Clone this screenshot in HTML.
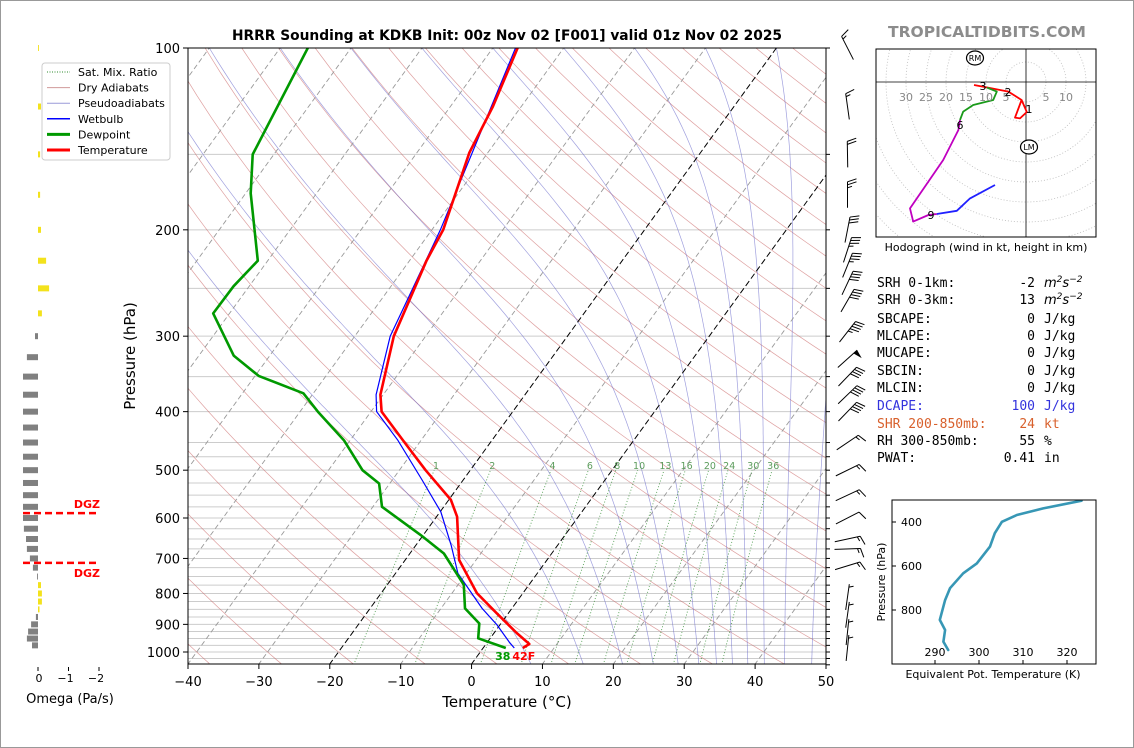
<!DOCTYPE html>
<html><head><meta charset="utf-8"><style>
html,body{margin:0;padding:0;background:#fff;}
#wrap{width:1134px;height:748px;box-sizing:border-box;border:1px solid #999;position:relative;overflow:hidden;}
svg{position:absolute;left:-1px;top:-1px;}
text{font-family:"DejaVu Sans","Liberation Sans",sans-serif;}
.mono{font-family:"DejaVu Sans Mono","Liberation Mono",monospace;font-size:13px;}
</style></head><body>
<div id="wrap">
<svg id="svg" width="1134" height="748" viewBox="0 0 1134 748" xmlns="http://www.w3.org/2000/svg">
<defs>
<clipPath id="mainclip"><rect x="188" y="48" width="638" height="616"/></clipPath>
<clipPath id="hodoclip"><rect x="876" y="49" width="220" height="188"/></clipPath>
<clipPath id="theclip"><rect x="892" y="500" width="204" height="164"/></clipPath>
</defs>
<text x="507" y="40" text-anchor="middle" font-size="13.8" font-weight="bold">HRRR Sounding at KDKB Init: 00z Nov 02 [F001] valid 01z Nov 02 2025</text>
<text x="987" y="37" text-anchor="middle" font-size="15.5" font-weight="bold" fill="#8c8c8c">TROPICALTIDBITS.COM</text>
<g id="bg" clip-path="url(#mainclip)"></g>
<g id="prof" clip-path="url(#mainclip)"></g>
<g id="axes"></g>
<g id="barbs"></g>
<g id="omega"></g>
<g id="hodo"></g>
<g id="stats"></g>
<g id="thetae"></g>
<g id="legend"></g>
</svg>
</div>
<script>
// ---- Sounding data ----
const tempP = [985,970,930,863,799,704,597,560,500,450,400,375,300,225,200,149,125,100];
const tempT = [5.6,6.1,3.2,-1.6,-6.5,-12.4,-17.1,-19.7,-26.3,-32.1,-38.5,-40.4,-44.5,-47.6,-48.4,-52.6,-54,-56.5];
const dewP = [985,949,897,847,774,687,640,575,526,500,446,400,373,349,323,275,248,225,174,150,100];
const dewT = [3.2,-1.7,-3.05,-6.6,-9.2,-15.2,-20.4,-28.7,-31.5,-35.2,-40.9,-47.5,-51.4,-59.5,-65.1,-72.3,-72.2,-71.4,-79.3,-83,-86.1];
const wetP = [985,965,902,847,741,666,586,519,446,400,375,300,200,100];
const wetT = [4.4,3.2,-0.4,-4.2,-11.2,-15.0,-19.9,-25.8,-33.3,-39.2,-41,-45,-48.8,-56.8];
const sfcLabels = ["38", "42F"];
// ---- Axis ticks ----
const pTicks = [100,200,300,400,500,600,700,800,900,1000];
const tTicks = [-40,-30,-20,-10,0,10,20,30,40,50];
const mixRatios = [1,2,4,6,8,10,13,16,20,24,30,36];
// ---- Wind barbs ----
const barbP = [100,125,150,175,200,216,229,245,262,295,327,350,375,400,450,500,550,600,650,675,720,811,868,927,985];
const barbDir = [333,352,359,0,11,18,22,25,30,38,48,44,46,44,56,64,65,63,78,88,73,8,8,6,6];
const barbSpd = [15,15,20,25,30,35,35,40,40,45,50,40,40,40,15,15,15,10,15,15,15,5,5,5,5];
// ---- Omega ----
const omegaP = [100,125,150,175,200,225,250,275,300,325,350,375,400,425,450,475,500,525,550,575,600,625,650,675,700,725,750,775,800,825,850,875,900,925,950,975];
const omegaV = [-0.03,-0.1,-0.07,-0.07,-0.1,-0.27,-0.37,-0.13,0.1,0.37,0.5,0.5,0.5,0.5,0.5,0.5,0.5,0.5,0.5,0.5,0.5,0.47,0.4,0.37,0.27,0.17,0.03,-0.1,-0.13,-0.13,-0.05,0.07,0.23,0.33,0.37,0.2];
const omegaTicks = [0,-1,-2];
const dgzP = [589,712];
// ---- Hodograph (kt) ----
const hodoRedU = [-1.1,0.2,-1.5,-2.75,-1.1,-4.4,-10,-13];
const hodoRedV = [-4.5,-7.5,-9.1,-8.9,-4.5,-2.4,-1.3,-0.75];
const hodoGreenU = [-9.8,-7.3,-8.2,-13.2,-15.7,-16.5];
const hodoGreenV = [-1.4,-2.4,-4.5,-5.75,-7.4,-9.5];
const hodoMagU = [-16.5,-16.9,-20.7,-29,-28.2,-24.4,-22.3];
const hodoMagV = [-9.5,-12,-19.5,-31.6,-34.9,-33.25,-33];
const hodoBlueU = [-22.3,-17.3,-14,-7.75];
const hodoBlueV = [-33,-32.2,-29.1,-25.75];
const hodoLblText = ["1","2","3","6","9"];
const hodoLblU = [0.75,-4.5,-10.75,-16.5,-23.75];
const hodoLblV = [-6.75,-2.5,-1,-10.75,-33.25];
const motionNames = ["RM","LM"];
const motionU = [-12.75,0.75];
const motionV = [6,-16.25];
const ringRadii = [5,10,15,20,25,30,35,40,45,50];
// ---- Theta-e ----
const thetaP = [303,338,368,399,451,512,588,633,701,755,845,891,944,982];
const thetaE = [323.3,314.6,308.6,305.2,303.6,302.5,299.5,296.4,293.4,292.3,291.1,292.3,291.9,293.0];
const thetaXTicks = [290,300,310,320];
const thetaYTicks = [400,600,800];

const NS = "http://www.w3.org/2000/svg";
function mk(tag, attrs, parent){ const e=document.createElementNS(NS,tag); for(const k in attrs) e.setAttribute(k,attrs[k]); parent.appendChild(e); return e; }
const G = id => document.getElementById(id);

const PX = 638/90, SK = 0.725;
function yP(p){ return 652 - 604*Math.log10(1000/p); }
function xT(T,p){ return 188 + (T+40)*PX + SK*(664 - yP(p)); }
function ptsTP(Ts,Ps){ return Ts.map((t,i)=>xT(t,Ps[i]).toFixed(1)+","+yP(Ps[i]).toFixed(1)).join(" "); }

const bg=G('bg');
const gridP=[];
for(let p=100;p<450;p+=50) gridP.push(p);
for(let p=450;p<=1050;p+=25) gridP.push(p);
gridP.forEach(p=>{
  const l=mk('line',{x1:188,x2:826,y1:yP(p),y2:yP(p),stroke:'#cccccc','stroke-width':1},bg);
  
  
});
for(let th=-50;th<=250;th+=10){
  const pts=[]; for(let p=1050;p>=100;p-=10){ const T=(th+273.15)*Math.pow(p/1000,0.2857)-273.15; pts.push(xT(T,p).toFixed(1)+","+yP(p).toFixed(1)); }
  const l=mk('polyline',{points:pts.join(" "),fill:'none',stroke:'#c86060','stroke-opacity':0.6,'stroke-width':0.7},bg);
  
  
}
function es(Tc){ return 6.112*Math.exp(17.67*Tc/(Tc+243.5)); }
function dTdp(T,p){ const Tc=T-273.15; const e=es(Tc); const rs=0.622*e/Math.max(p-e,1); return (287.04*T+2.501e6*rs)/(p*(1005.7+2.501e6*2.501e6*rs*0.622/(287.04*T*T))); }
for(let t100=-120;t100<=0;t100+=10){
  let T=t100+273.15, p=100; const pts=[xT(T-273.15,p).toFixed(1)+","+yP(p).toFixed(1)];
  const h=5;
  while(p<1050){ const k1=dTdp(T,p),k2=dTdp(T+k1*h/2,p+h/2),k3=dTdp(T+k2*h/2,p+h/2),k4=dTdp(T+k3*h,p+h); T+=h*(k1+2*k2+2*k3+k4)/6; p+=h; pts.push(xT(T-273.15,p).toFixed(1)+","+yP(p).toFixed(1)); }
  const l=mk('polyline',{points:pts.join(" "),fill:'none',stroke:'#6060c8','stroke-opacity':0.6,'stroke-width':0.7},bg);
  
  
}
for(let T=-130;T<=50;T+=10){
  const hl=(T===0||T===-20);
  const l=mk('line',{x1:xT(T,1050),y1:yP(1050),x2:xT(T,100),y2:yP(100),stroke:hl?'#000':'#999','stroke-width':hl?1:0.9,'stroke-dasharray':hl?'6,3':'5,3'},bg);
  
  
}
function tdFromW(w,p){ const e=w*p/(622+w); const a=Math.log(e/6.112); return 243.5*a/(17.67-a); }
mixRatios.forEach(w=>{
  const pts=[]; for(let p=1050;p>=500;p-=10) pts.push(xT(tdFromW(w,p),p).toFixed(1)+","+yP(p).toFixed(1));
  const l=mk('polyline',{points:pts.join(" "),fill:'none',stroke:'#2e8b2e','stroke-width':0.9,'stroke-dasharray':'1,2','stroke-opacity':0.8},bg);
  
  
  const t=mk('text',{x:xT(tdFromW(w,492),492),y:469,'text-anchor':'middle','font-size':9.5,fill:'#5c9c5c'},bg);
  t.textContent=w;
  
  
});

const prof=G('prof');
const lw=mk('polyline',{points:ptsTP(wetT,wetP),fill:'none',stroke:'#0000ff','stroke-width':1.2},prof);


const ld=mk('polyline',{points:ptsTP(dewT,dewP),fill:'none',stroke:'#009900','stroke-width':2.6,'stroke-linejoin':'round'},prof);


const lt=mk('polyline',{points:ptsTP(tempT,tempP),fill:'none',stroke:'#ff0000','stroke-width':2.6,'stroke-linejoin':'round'},prof);


const st1=mk('text',{x:xT(dewT[0],dewP[0])-3,y:660,'text-anchor':'middle','font-size':11,'font-weight':'bold',fill:'#009900'},G('axes'));
st1.textContent=sfcLabels[0];


const st2=mk('text',{x:xT(tempT[0],tempP[0])+1,y:660,'text-anchor':'middle','font-size':11,'font-weight':'bold',fill:'#ff0000'},G('axes'));
st2.textContent=sfcLabels[1];



const ax=G('axes');
const fr=mk('rect',{x:188,y:48,width:638,height:616,fill:'none',stroke:'#000','stroke-width':1},ax);


pTicks.forEach(p=>{
  const tk=mk('line',{x1:183,x2:188,y1:yP(p),y2:yP(p),stroke:'#000'},ax);
  
  
  const t=mk('text',{x:180,y:yP(p)+5,'text-anchor':'end','font-size':13},ax);
  t.textContent=p;
  
  
});
gridP.forEach(p=>{
  const tk=mk('line',{x1:826,x2:830,y1:yP(p),y2:yP(p),stroke:'#000'},ax);
  
  
});
tTicks.forEach(T=>{
  const x=188+(T+40)*PX;
  const tk=mk('line',{x1:x,x2:x,y1:664,y2:669,stroke:'#000'},ax);
  
  
  const t=mk('text',{x:x,y:686,'text-anchor':'middle','font-size':13},ax);
  t.textContent=String(T).replace('-','\u2212');
  
  
});
const xl=mk('text',{x:507,y:707,'text-anchor':'middle','font-size':15},ax);
xl.textContent='Temperature (\u00B0C)';


const yl=mk('text',{x:135,y:356,'text-anchor':'middle','font-size':15,transform:'rotate(-90 135 356)'},ax);
yl.textContent='Pressure (hPa)';



const bb=G('barbs');
barbP.forEach((p,i)=>{
  const d=barbDir[i]*Math.PI/180, cx=847.5, cy=yP(p), L=26;
  const sx=Math.sin(d), sy=-Math.cos(d), rx=-sy, ry=sx;
  const tx=cx+sx*L/2, ty=cy+sy*L/2;
  const g=mk('g',{},bb);
  
  
  mk('line',{x1:cx-sx*L/2,y1:cy-sy*L/2,x2:tx,y2:ty,stroke:'#000','stroke-width':1},g);
  let spd=barbSpd[i], pos=0;
  while(spd>=50){ const ax1=tx-sx*pos, ay1=ty-sy*pos; mk('polygon',{points:`${ax1},${ay1} ${ax1-sx*5},${ay1-sy*5} ${ax1+rx*9-sx*2},${ay1+ry*9-sy*2}`,fill:'#000'},g); pos+=6; spd-=50; }
  while(spd>=10){ const ax1=tx-sx*pos, ay1=ty-sy*pos; mk('line',{x1:ax1,y1:ay1,x2:ax1+rx*9+sx*3,y2:ay1+ry*9+sy*3,stroke:'#000','stroke-width':1},g); pos+=3; spd-=10; }
  if(spd>=5){ if(pos===0) pos=3; const ax1=tx-sx*pos, ay1=ty-sy*pos; mk('line',{x1:ax1,y1:ay1,x2:ax1+rx*4.5+sx*1.5,y2:ay1+ry*4.5+sy*1.5,stroke:'#000','stroke-width':1},g); }
});

const om=G('omega');
omegaP.forEach((p,i)=>{
  const v=omegaV[i], w=Math.abs(v)*30, y=yP(p)-3;
  const r=mk('rect',{x:v>0?38-w:38,y:y,width:Math.max(w,0.8),height:6,fill:v>0?'#808080':'#f3e21c'},om);
  
  
});
dgzP.forEach((p,i)=>{
  const l=mk('line',{x1:23,x2:99,y1:yP(p),y2:yP(p),stroke:'#ff0000','stroke-width':2.5,'stroke-dasharray':'7,4'},om);
  
  
  const t=mk('text',{x:100,y:i===0?yP(p)-5:yP(p)+14,'text-anchor':'end','font-size':11,'font-weight':'bold',fill:'#ff0000'},om);
  t.textContent='DGZ';
  
  
});
omegaTicks.forEach(v=>{
  const x=38-v*30.5;
  const tk=mk('line',{x1:x,x2:x,y1:667,y2:671,stroke:'#000'},om);
  
  
  const t=mk('text',{x:x+(v<0?-3:1),y:682,'text-anchor':'middle','font-size':11},om);
  t.textContent=String(v).replace('-','\u2212');
  
  
});
const oml=mk('text',{x:70,y:703,'text-anchor':'middle','font-size':13},om);
oml.textContent='Omega (Pa/s)';



const hd=G('hodo'), OX=1026, OY=82, KS=4;
const hu=u=>OX+u*KS, hv=v=>OY-v*KS;
const hg=mk('g',{'clip-path':'url(#hodoclip)'},hd);
ringRadii.forEach(r=>{
  const c=mk('circle',{cx:OX,cy:OY,r:r*KS,fill:'none',stroke:'#bbb','stroke-width':0.8,'stroke-dasharray':'1,2'},hg);
  
  
});
const hx=mk('line',{x1:876,x2:1096,y1:OY,y2:OY,stroke:'#000','stroke-width':0.8},hg);


const hy=mk('line',{x1:OX,x2:OX,y1:49,y2:237,stroke:'#000','stroke-width':0.8},hg);


[30,25,20,15,10,5].forEach(r=>{
  const t=mk('text',{x:hu(-r),y:101,'text-anchor':'middle','font-size':11,fill:'#888'},hd);
  t.textContent=r;
  
  
});
[5,10].forEach(r=>{
  const t=mk('text',{x:hu(r),y:101,'text-anchor':'middle','font-size':11,fill:'#888'},hd);
  t.textContent=r;
  
  
});
function hline(U,V,col){ return mk('polyline',{points:U.map((u,i)=>hu(u).toFixed(1)+","+hv(V[i]).toFixed(1)).join(" "),fill:'none',stroke:col,'stroke-width':1.8,'stroke-linejoin':'round'},hg); }
const h1=hline(hodoRedU,hodoRedV,'#ff0000');


const h2=hline(hodoGreenU,hodoGreenV,'#1a9a1a');


const h3=hline(hodoMagU,hodoMagV,'#c000c0');


const h4=hline(hodoBlueU,hodoBlueV,'#2020ff');


hodoLblText.forEach((s,i)=>{
  const t=mk('text',{x:hu(hodoLblU[i]),y:hv(hodoLblV[i])+4,'text-anchor':'middle','font-size':11},hd);
  t.textContent=s;
  
  
});
motionNames.forEach((s,i)=>{
  const c=mk('ellipse',{cx:hu(motionU[i]),cy:hv(motionV[i]),rx:8.5,ry:7,fill:'#fff',stroke:'#000','stroke-width':1.2},hd);
  
  
  const t=mk('text',{x:hu(motionU[i]),y:hv(motionV[i])+3,'text-anchor':'middle','font-size':8},hd);
  t.textContent=s;
  
  
});
const hf=mk('rect',{x:876,y:49,width:220,height:188,fill:'none',stroke:'#000','stroke-width':1},hd);


const hc=mk('text',{x:986,y:251,'text-anchor':'middle','font-size':11},hd);
hc.textContent='Hodograph (wind in kt, height in km)';


</script>
<script>
(function(){
const stLabels=["SRH 0-1km:","SRH 0-3km:","SBCAPE:","MLCAPE:","MUCAPE:","SBCIN:","MLCIN:","DCAPE:","SHR 200-850mb:","RH 300-850mb:","PWAT:"];
const stVals=["-2","13","0","0","0","0","0","100","24","55","0.41"];
const stUnits=["m2","m2","J/kg","J/kg","J/kg","J/kg","J/kg","J/kg","kt","%","in"];
const stColors=["#000","#000","#000","#000","#000","#000","#000","#3333dd","#d8602c","#000","#000"];
const stY=[287,304,323,340,357,375,392,410,428,445,462];
const g=document.getElementById('stats'); const NS="http://www.w3.org/2000/svg";
stLabels.forEach((s,i)=>{
  const row=document.createElementNS(NS,'g'); g.appendChild(row);
  
  
  const a=document.createElementNS(NS,'text'); a.setAttribute('x',877); a.setAttribute('y',stY[i]); a.setAttribute('class','mono'); a.setAttribute('fill',stColors[i]); a.textContent=s; row.appendChild(a);
  
  
  const b=document.createElementNS(NS,'text'); b.setAttribute('x',1035); b.setAttribute('y',stY[i]); b.setAttribute('text-anchor','end'); b.setAttribute('class','mono'); b.setAttribute('fill',stColors[i]); b.textContent=stVals[i]; row.appendChild(b);
  
  
  const c=document.createElementNS(NS,'text'); c.setAttribute('x',1044); c.setAttribute('y',stY[i]); c.setAttribute('fill',stColors[i]);
  if(stUnits[i]==="m2"){ c.setAttribute('font-size','13'); c.setAttribute('font-style','italic'); c.innerHTML='m<tspan dy="-5" font-size="9">2</tspan><tspan dy="5">s</tspan><tspan dy="-5" font-size="9">\u22122</tspan>'; }
  else { c.setAttribute('class','mono'); c.textContent=stUnits[i]; }
  row.appendChild(c);
  
  
});
})();
(function(){
const g=document.getElementById('thetae'); const NS="http://www.w3.org/2000/svg";
function mk(tag,attrs,parent){ const e=document.createElementNS(NS,tag); for(const k in attrs) e.setAttribute(k,attrs[k]); parent.appendChild(e); return e; }
const xTh=t=>935+(t-290)*4.4, yPe=p=>522+(p-400)*0.22;
const cg=mk('g',{'clip-path':'url(#theclip)'},g);
const l=mk('polyline',{points:thetaE.map((t,i)=>xTh(t).toFixed(1)+","+yPe(thetaP[i]).toFixed(1)).join(" "),fill:'none',stroke:'#3797b5','stroke-width':2.6,'stroke-linejoin':'round','stroke-linecap':'round'},cg);


const f=mk('rect',{x:892,y:500,width:204,height:164,fill:'none',stroke:'#000','stroke-width':1},g);


thetaYTicks.forEach(p=>{
  const tk=mk('line',{x1:892,x2:896,y1:yPe(p),y2:yPe(p),stroke:'#000'},g);
  
  
  const t=mk('text',{x:901,y:yPe(p)+4,'font-size':11},g);
  t.textContent=p;
  
  
});
thetaXTicks.forEach(v=>{
  const tk=mk('line',{x1:xTh(v),x2:xTh(v),y1:660,y2:664,stroke:'#000'},g);
  
  
  const t=mk('text',{x:xTh(v),y:656,'text-anchor':'middle','font-size':11},g);
  t.textContent=v;
  
  
});
const xl=mk('text',{x:993,y:678,'text-anchor':'middle','font-size':11},g);
xl.textContent='Equivalent Pot. Temperature (K)';


const yl=mk('text',{x:885,y:582,'text-anchor':'middle','font-size':11,transform:'rotate(-90 885 582)'},g);
yl.textContent='Pressure (hPa)';


})();
(function(){
const g=document.getElementById('legend'); const NS="http://www.w3.org/2000/svg";
function mk(tag,attrs,parent){ const e=document.createElementNS(NS,tag); for(const k in attrs) e.setAttribute(k,attrs[k]); parent.appendChild(e); return e; }
const box=mk('rect',{x:42,y:63,width:128,height:97,rx:3,fill:'#fff','fill-opacity':0.85,stroke:'#ccc'},g);


const names=["Sat. Mix. Ratio","Dry Adiabats","Pseudoadiabats","Wetbulb","Dewpoint","Temperature"];
const cols=["#2e8b2e","#d09a9a","#9a9ad8","#0000ff","#009900","#ff0000"];
const wids=[1,1,1,1.5,3,3];
names.forEach((n,i)=>{
  const y=72+i*15.6;
  const ln=mk('line',{x1:47,x2:70,y1:y,y2:y,stroke:cols[i],'stroke-width':wids[i],'stroke-dasharray':i===0?'1,1.5':'none'},g);
  
  
  const t=mk('text',{x:78,y:y+4,'font-size':11},g);
  t.textContent=n;
  
  
});
})();
</script>
</body></html>
